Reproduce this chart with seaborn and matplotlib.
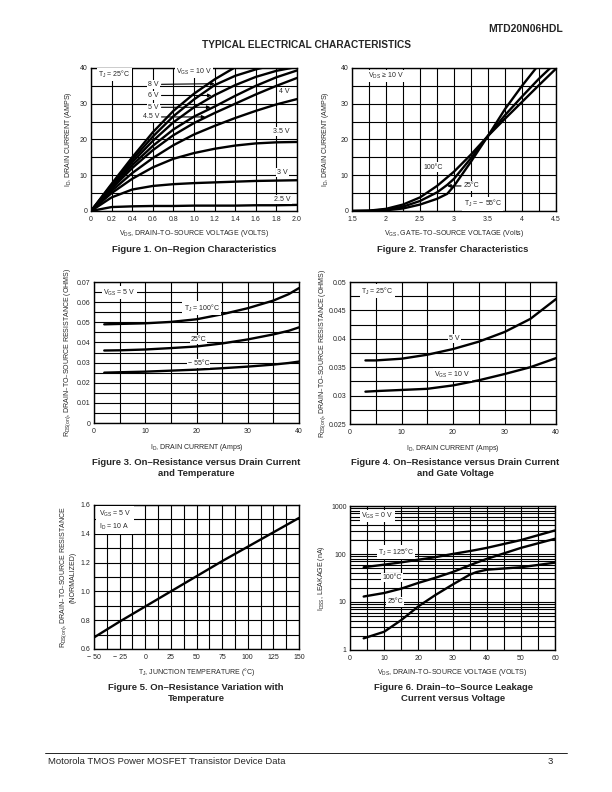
import numpy as np
import pandas as pd
import matplotlib
matplotlib.use('Agg')
import matplotlib.pyplot as plt
import matplotlib.ticker as mticker
import seaborn as sns

# Figure 1 - on-region characteristics (ID vs VDS, per VGS)
vds_1 = [0, 0.2, 0.4, 0.6, 0.8, 1.0, 1.2, 1.4, 1.6, 1.8, 2.0]
id_vgs = {
    '10 V': [0, 7.6, 15.0, 22.0, 28.0, 32.8, 36.8, 40.2, 43.0, 45.5, 47.5],
    '8 V': [0, 7.3, 14.3, 20.8, 26.5, 31.2, 35.2, 37.8, 39.6, 41.0, 42.3],
    '6 V': [0, 7.0, 13.6, 19.6, 24.8, 29.0, 32.4, 35.2, 37.5, 39.2, 40.3],
    '5 V': [0, 6.6, 12.8, 18.2, 22.8, 26.4, 29.2, 32.2, 35.0, 37.4, 39.3],
    '4.5 V': [0, 6.2, 12.0, 17.0, 21.2, 24.6, 27.4, 30.0, 32.6, 35.0, 37.2],
    '4 V': [0, 5.6, 10.6, 14.8, 18.4, 21.4, 23.8, 26.0, 28.0, 29.8, 31.3],
    '3.5 V': [0, 5.0, 9.0, 12.2, 14.6, 16.2, 17.4, 18.3, 18.9, 19.2, 19.3],
    '3 V': [0, 3.8, 6.0, 7.0, 7.5, 7.8, 8.0, 8.2, 8.4, 8.5, 8.6],
    '2.5 V': [0, 1.1, 1.3, 1.4, 1.4, 1.5, 1.5, 1.5, 1.6, 1.6, 1.7],
}
x1_ticklabels = ['0', '0.2', '0.4', '0.6', '0.8', '1.0', '1.2', '1.4', '1.6', '1.8', '2.0']

# Figure 2 - transfer characteristics (ID vs VGS, per TJ)
vgs_2 = [1.5, 1.75, 2.0, 2.25, 2.5, 2.75, 2.9, 3.0, 3.25, 3.5, 3.75, 4.0, 4.25, 4.5]
id_temp = {
    '100°C': [0, 0.1, 0.6, 1.8, 3.8, 7.0, 9.4, 11.0, 15.8, 21.0, 25.8, 30.5, 35.2, 39.8],
    '25°C': [0, 0.05, 0.4, 1.2, 2.8, 5.2, 7.3, 9.0, 14.8, 21.0, 26.8, 32.0, 37.0, 41.5],
    '-55°C': [0, 0, 0.2, 0.7, 1.8, 3.4, 4.8, 7.0, 13.8, 21.0, 28.5, 35.0, 41.0, 46.0],
}

# Figure 3 - RDS(on) vs ID and temperature
id_3 = [2, 5, 10, 15, 20, 25, 30, 35, 38, 40]
rds_temp = {
    '100°C': [0.049, 0.0492, 0.0495, 0.0502, 0.0515, 0.054, 0.057, 0.0608, 0.064, 0.067],
    '25°C': [0.036, 0.0361, 0.0365, 0.0372, 0.038, 0.0395, 0.0415, 0.044, 0.0458, 0.0475],
    '-55°C': [0.025, 0.0252, 0.0255, 0.026, 0.0265, 0.0272, 0.028, 0.029, 0.0298, 0.0305],
}
y3_ticklabels = ['0', '0.01', '0.02', '0.03', '0.04', '0.05', '0.06', '0.07']

# Figure 4 - RDS(on) vs ID and gate voltage
id_4 = [3, 5, 10, 15, 20, 25, 30, 35, 40]
rds_vgs = {
    '5 V': [0.0362, 0.0362, 0.0365, 0.0372, 0.0382, 0.0395, 0.0412, 0.0435, 0.047],
    '10 V': [0.0307, 0.0308, 0.031, 0.0312, 0.0318, 0.0327, 0.0338, 0.035, 0.0366],
}
y4_ticklabels = ['0.025', '0.03', '0.035', '0.04', '0.045', '0.05']

# Figure 5 - normalized RDS(on) vs junction temperature
tj_5 = [-50, -25, 0, 25, 50, 75, 100, 125, 150]
rds_norm = [0.68, 0.79, 0.895, 1.0, 1.105, 1.21, 1.31, 1.41, 1.51]
x5_ticklabels = ['− 50', '− 25', '0', '25', '50', '75', '100', '125', '150']
y5_ticklabels = ['0.6', '0.8', '1.0', '1.2', '1.4', '1.6']

# Figure 6 - drain-to-source leakage vs VDS
vds_6 = [4, 10, 15, 20, 25, 30, 35, 37, 40, 50, 60]
idss = {
    '125°C': [53, 60, 67, 76, 86, 100, 115, 122, 134, 195, 310],
    '100°C': [13, 15.4, 19, 25, 32, 42, 58, 66, 79, 134, 208],
    '25°C': [1.75, 2.4, 4.2, 8.1, 14, 23, 37, 42, 47, 53, 66],
}

sns.set_style('white')
plt.rcParams['font.family'] = ['Liberation Sans', 'DejaVu Sans']
plt.rcParams['mathtext.default'] = 'regular'

fig = plt.figure(figsize=(6.12, 7.92), dpi=100)

GRID_LW = 0.8
CURVE_LW = 1.7
TICK_FS = 5
LABEL_FS = 5
NOTE_FS = 5
CAP_FS = 6.8
box = dict(facecolor='white', edgecolor='none', pad=0.8)


def long_df(x, curves):
    rows = []
    for name, ys in curves.items():
        for xv, yv in zip(x, ys):
            rows.append({'x': xv, 'y': yv, 'curve': name})
    return pd.DataFrame(rows)


def style(ax, xlim, ylim, xmaj, xmin, ymaj, ymin, log=False):
    ax.set_xlim(*xlim)
    ax.set_ylim(*ylim)
    ax.xaxis.set_major_locator(mticker.MultipleLocator(xmaj))
    ax.xaxis.set_minor_locator(mticker.MultipleLocator(xmin))
    if not log:
        ax.yaxis.set_major_locator(mticker.MultipleLocator(ymaj))
        ax.yaxis.set_minor_locator(mticker.MultipleLocator(ymin))
    ax.grid(which='both', color='black', lw=GRID_LW)
    ax.set_axisbelow(True)
    ax.tick_params(which='both', length=0, labelsize=TICK_FS)
    ax.tick_params(axis='x', pad=3.5)
    ax.tick_params(axis='y', pad=2.5)
    for s in ax.spines.values():
        s.set_color('black')
        s.set_linewidth(1.0)


def draw(ax, x, curves):
    df = long_df(x, curves)
    sns.lineplot(data=df, x='x', y='y', hue='curve', palette=['black'] * len(curves),
                 estimator=None, sort=False, legend=False, lw=CURVE_LW, ax=ax)
    ax.set_xlabel('')
    ax.set_ylabel('')


# ---- Figure 1 ----
ax1 = fig.add_axes([0.1487, 0.7336, 0.3366, 0.1806])
draw(ax1, vds_1, id_vgs)
style(ax1, (0, 2.0), (0, 40), 0.2, 0.2, 10, 5)
ax1.set_xticks(np.arange(0, 2.01, 0.2))
ax1.set_xticklabels(x1_ticklabels)
ax1.set_xlabel('V$_{DS}$, DRAIN–TO–SOURCE VOLTAGE (VOLTS)', fontsize=LABEL_FS, labelpad=4)
ax1.set_ylabel('I$_D$, DRAIN CURRENT (AMPS)', fontsize=LABEL_FS, labelpad=4)
ax1.text(0.07, 38.1, 'T$_J$ = 25°C', fontsize=NOTE_FS, va='center', bbox=box)
ax1.text(1.0, 38.8, 'V$_{GS}$ = 10 V', fontsize=NOTE_FS, ha='center', va='center', bbox=box)
for lab, ty, ax_x, ax_y in [('8 V', 35.4, 1.2, 35.6), ('6 V', 32.3, 1.17, 32.3),
                            ('5 V', 29.0, 1.16, 29.0), ('4.5 V', 26.3, 1.11, 26.3)]:
    ax1.annotate(lab, xy=(ax_x, ax_y), xytext=(0.66, ty), fontsize=NOTE_FS, ha='right',
                 va='center', bbox=box,
                 arrowprops=dict(arrowstyle='-|>', lw=0.8, color='black',
                                 mutation_scale=5, shrinkA=1, shrinkB=0))
for lab, tx, ty in [('4 V', 1.88, 33.3), ('3.5 V', 1.85, 22.3), ('3 V', 1.86, 10.7),
                    ('2.5 V', 1.86, 3.3)]:
    ax1.text(tx, ty, lab, fontsize=NOTE_FS, ha='center', va='center', bbox=box)

# ---- Figure 2 ----
ax2 = fig.add_axes([0.5752, 0.7336, 0.3333, 0.1806])
draw(ax2, vgs_2, id_temp)
style(ax2, (1.5, 4.5), (0, 40), 0.5, 0.25, 10, 5)
ax2.xaxis.set_major_formatter(mticker.FuncFormatter(lambda v, _: f'{v:g}'))
ax2.set_xlabel('V$_{GS}$, GATE–TO–SOURCE VOLTAGE (Volts)', fontsize=LABEL_FS, labelpad=4)
ax2.set_ylabel('I$_D$, DRAIN CURRENT (AMPS)', fontsize=LABEL_FS, labelpad=7)
ax2.text(1.74, 37.8, 'V$_{DS}$ ≥ 10 V', fontsize=NOTE_FS, va='center', bbox=box)
ax2.text(2.7, 12.3, '100°C', fontsize=NOTE_FS, ha='center', va='center', bbox=box)
ax2.annotate('25°C', xy=(2.9, 7.0), xytext=(3.14, 7.0), fontsize=NOTE_FS, va='center',
             bbox=box, arrowprops=dict(arrowstyle='-|>', lw=0.8, color='black',
                                       mutation_scale=5, shrinkA=1, shrinkB=0))
ax2.text(3.14, 2.0, 'T$_J$ = − 55°C', fontsize=NOTE_FS, va='center', bbox=box)

# ---- Figure 3 ----
ax3 = fig.add_axes([0.1536, 0.4659, 0.335, 0.178])
draw(ax3, id_3, rds_temp)
style(ax3, (0, 40), (0, 0.07), 10, 5, 0.01, 0.005)
ax3.set_yticks(np.arange(0, 0.0701, 0.01))
ax3.set_yticklabels(y3_ticklabels)
ax3.set_xlabel('I$_D$, DRAIN CURRENT (Amps)', fontsize=LABEL_FS, labelpad=5)
ax3.set_ylabel('R$_{DS(on)}$, DRAIN–TO–SOURCE RESISTANCE (OHMS)', fontsize=LABEL_FS, labelpad=3)
ax3.text(1.8, 0.0648, 'V$_{GS}$ = 5 V', fontsize=NOTE_FS, va='center', bbox=box)
ax3.text(21, 0.0571, 'T$_J$ = 100°C', fontsize=NOTE_FS, ha='center', va='center', bbox=box)
ax3.text(20.4, 0.0414, '25°C', fontsize=NOTE_FS, ha='center', va='center', bbox=box)
ax3.text(20.4, 0.0295, '− 55°C', fontsize=NOTE_FS, ha='center', va='center', bbox=box)

# ---- Figure 4 ----
ax4 = fig.add_axes([0.5719, 0.4646, 0.3366, 0.1793])
draw(ax4, id_4, rds_vgs)
style(ax4, (0, 40), (0.025, 0.05), 10, 5, 0.005, 0.0025)
ax4.set_yticks(np.arange(0.025, 0.05001, 0.005))
ax4.set_yticklabels(y4_ticklabels)
ax4.set_xlabel('I$_D$, DRAIN CURRENT (Amps)', fontsize=LABEL_FS, labelpad=5)
ax4.set_ylabel('R$_{DS(on)}$, DRAIN–TO–SOURCE RESISTANCE (OHMS)', fontsize=LABEL_FS, labelpad=1)
ax4.text(2.2, 0.0484, 'T$_J$ = 25°C', fontsize=NOTE_FS, va='center', bbox=box)
ax4.text(20.3, 0.0400, '5 V', fontsize=NOTE_FS, ha='center', va='center', bbox=box)
ax4.text(19.9, 0.0337, 'V$_{GS}$ = 10 V', fontsize=NOTE_FS, ha='center', va='center', bbox=box)

# ---- Figure 5 ----
ax5 = fig.add_axes([0.1536, 0.1806, 0.335, 0.1818])
sns.lineplot(x=tj_5, y=rds_norm, color='black', lw=CURVE_LW, ax=ax5)
style(ax5, (-50, 150), (0.6, 1.6), 25, 12.5, 0.2, 0.1)
ax5.set_xticks(np.arange(-50, 151, 25))
ax5.set_xticklabels(x5_ticklabels)
ax5.set_yticks(np.arange(0.6, 1.601, 0.2))
ax5.set_yticklabels(y5_ticklabels)
ax5.set_xlabel('T$_J$, JUNCTION TEMPERATURE (°C)', fontsize=LABEL_FS, labelpad=4)
ax5.set_ylabel('R$_{DS(on)}$, DRAIN–TO–SOURCE RESISTANCE\n(NORMALIZED)',
               fontsize=LABEL_FS, labelpad=3, linespacing=1.1)
ax5.text(-45, 1.495, 'V$_{GS}$ = 5 V\nI$_D$ = 10 A', fontsize=NOTE_FS, va='center',
         linespacing=1.4, bbox=dict(facecolor='white', edgecolor='none', pad=2))

# ---- Figure 6 ----
ax6 = fig.add_axes([0.5719, 0.1793, 0.335, 0.1818])
draw(ax6, vds_6, idss)
ax6.set_yscale('log')
style(ax6, (0, 60), (1, 1000), 10, 5, None, None, log=True)
ax6.yaxis.set_major_locator(mticker.LogLocator(base=10))
ax6.yaxis.set_minor_locator(mticker.LogLocator(base=10, subs=np.arange(2, 10)))
ax6.yaxis.set_major_formatter(mticker.FuncFormatter(lambda v, _: f'{v:g}'))
ax6.yaxis.set_minor_formatter(mticker.NullFormatter())
ax6.set_xlabel('V$_{DS}$, DRAIN–TO–SOURCE VOLTAGE (VOLTS)', fontsize=LABEL_FS, labelpad=4)
ax6.set_ylabel('I$_{DSS}$, LEAKAGE (nA)', fontsize=LABEL_FS, labelpad=3)
ax6.text(8, 620, 'V$_{GS}$ = 0 V', fontsize=NOTE_FS, ha='center', va='center', bbox=box)
ax6.text(13.5, 110, 'T$_J$ = 125°C', fontsize=NOTE_FS, ha='center', va='center', bbox=box)
ax6.text(12.3, 33, '100°C', fontsize=NOTE_FS, ha='center', va='center', bbox=box)
ax6.text(13.2, 10, '25°C', fontsize=NOTE_FS, ha='center', va='center', bbox=box)

# ---- captions, header and footer ----
captions = [
    (194 / 612, 249, 'Figure 1. On–Region Characteristics'),
    (453 / 612, 249, 'Figure 2. Transfer Characteristics'),
    (196 / 612, 468, 'Figure 3. On–Resistance versus Drain Current\nand Temperature'),
    (455 / 612, 468, 'Figure 4. On–Resistance versus Drain Current\nand Gate Voltage'),
    (196 / 612, 693, 'Figure 5. On–Resistance Variation with\nTemperature'),
    (453 / 612, 693, 'Figure 6. Drain–to–Source Leakage\nCurrent versus Voltage'),
]
for cx, cy, txt in captions:
    fig.text(cx, 1 - cy / 792, txt, fontsize=CAP_FS, fontweight='bold', ha='center',
             va='center', linespacing=1.25)

fig.text(563 / 612, 1 - 29 / 792, 'MTD20N06HDL', fontsize=7.5, fontweight='heavy',
         ha='right', va='center')
fig.text(0.5, 1 - 45 / 792, 'TYPICAL ELECTRICAL CHARACTERISTICS', fontsize=7.3,
         fontweight='bold', ha='center', va='center')
fig.add_artist(plt.Line2D([45 / 612, 567 / 612], [1 - 753 / 792, 1 - 753 / 792],
                          color='black', lw=0.6))
fig.text(48 / 612, 1 - 761 / 792, 'Motorola TMOS Power MOSFET Transistor Device Data',
         fontsize=6.8, ha='left', va='center')
fig.text(553 / 612, 1 - 761 / 792, '3', fontsize=6.8, ha='right', va='center')

fig.savefig('out.png', dpi=100, facecolor='white')
